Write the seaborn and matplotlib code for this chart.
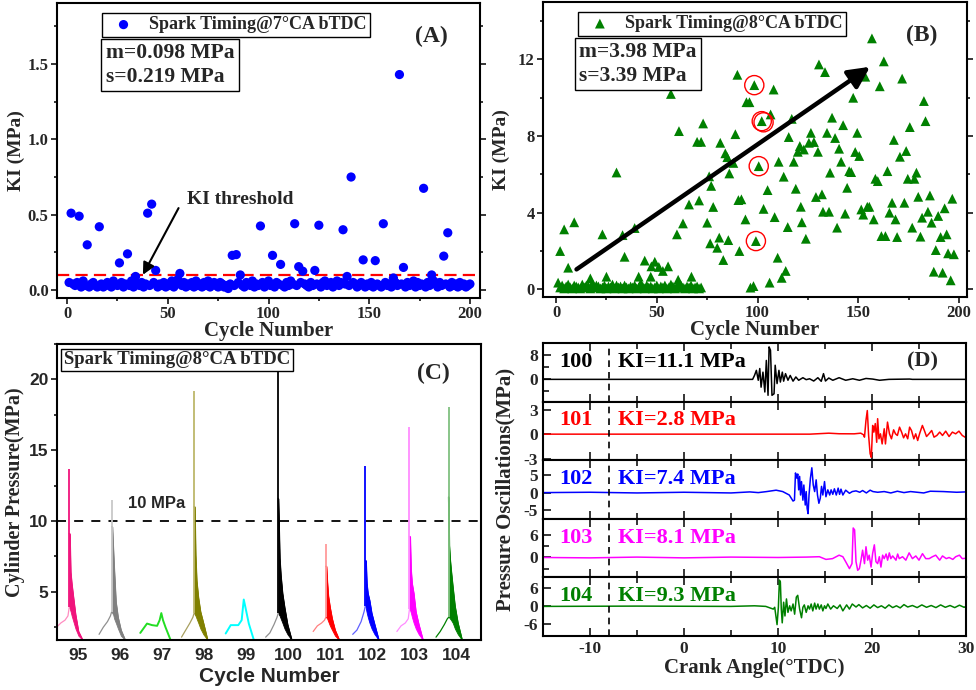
import matplotlib
matplotlib.use("Agg")
import matplotlib.pyplot as plt
from matplotlib.ticker import MultipleLocator, FixedLocator
import numpy as np
import pandas as pd
import seaborn as sns

sns.set_theme(style="ticks")
plt.rcParams["font.family"] = ["Liberation Serif", "DejaVu Sans"]
plt.rcParams["font.weight"] = "bold"
plt.rcParams["axes.labelweight"] = "bold"
plt.rcParams["axes.linewidth"] = 1.5
plt.rcParams["axes.edgecolor"] = "black"
plt.rcParams["axes.unicode_minus"] = False

SANS = ["Liberation Sans", "DejaVu Sans"]

# ---------------- (A) KI per cycle, spark timing 7 CA bTDC ----------------
KI_7CA = [
    0.05, 0.51, 0.04, 0.03, 0.05, 0.49, 0.02, 0.06, 0.03, 0.30,
    0.02, 0.04, 0.05, 0.03, 0.02, 0.42, 0.04, 0.02, 0.03, 0.05,
    0.03, 0.02, 0.06, 0.04, 0.03, 0.18, 0.05, 0.02, 0.04, 0.24,
    0.03, 0.06, 0.02, 0.09, 0.04, 0.03, 0.05, 0.02, 0.04, 0.51,
    0.03, 0.57, 0.05, 0.13, 0.02, 0.04, 0.03, 0.05, 0.02, 0.04,
    0.03, 0.06, 0.02, 0.04, 0.07, 0.11, 0.03, 0.05, 0.02, 0.04,
    0.03, 0.05, 0.02, 0.06, 0.03, 0.04, 0.02, 0.05, 0.03, 0.06,
    0.02, 0.04, 0.05, 0.03, 0.02, 0.05, 0.04, 0.02, 0.03, 0.01,
    0.04, 0.23, 0.03, 0.235, 0.05, 0.10, 0.03, 0.02, 0.05, 0.04,
    0.03, 0.06, 0.02, 0.04, 0.03, 0.425, 0.05, 0.02, 0.04, 0.06,
    0.03, 0.23, 0.02, 0.05, 0.04, 0.17, 0.03, 0.02, 0.05, 0.03,
    0.06, 0.04, 0.44, 0.03, 0.155, 0.05, 0.125, 0.04, 0.03, 0.02,
    0.05, 0.03, 0.13, 0.04, 0.43, 0.02, 0.05, 0.06, 0.03, 0.04,
    0.05, 0.02, 0.04, 0.06, 0.03, 0.05, 0.40, 0.04, 0.09, 0.03,
    0.75, 0.05, 0.04, 0.02, 0.03, 0.05, 0.20, 0.02, 0.04, 0.03,
    0.05, 0.02, 0.195, 0.04, 0.03, 0.02, 0.44, 0.05, 0.03, 0.04,
    0.02, 0.08, 0.05, 0.03, 1.43, 0.04, 0.15, 0.02, 0.05, 0.03,
    0.04, 0.06, 0.02, 0.05, 0.03, 0.04, 0.675, 0.02, 0.05, 0.03,
    0.10, 0.06, 0.04, 0.02, 0.05, 0.03, 0.225, 0.04, 0.38, 0.02,
    0.05, 0.03, 0.04, 0.02, 0.05, 0.03, 0.04, 0.02, 0.03, 0.04,
]
KI_THRESHOLD = 0.1

# ---------------- (B) KI per cycle, spark timing 8 CA bTDC ----------------
KI_8CA_LOW = [
    0.35, 0.10, 0.20, 0.05, 0.15, 0.25, 0.10, 0.05, 0.20, 0.15,
    0.10, 0.05, 0.25, 0.10, 0.20, 0.15, 0.05, 0.30, 0.10, 0.20,
    0.15, 0.05, 0.10, 0.20, 0.05, 0.15, 0.10, 0.25, 0.05, 0.20,
    0.10, 0.15, 0.05, 0.20, 0.10, 0.05, 0.15, 0.10, 0.20, 0.05,
    0.10, 0.30, 0.15, 0.05, 0.20, 0.10, 0.15, 0.05, 0.10, 0.20,
    0.05, 0.15, 0.10, 0.20, 0.05, 0.10, 0.25, 0.15, 0.05, 0.10,
    0.35, 0.20, 0.10, 0.05, 0.15, 0.10, 0.20, 0.05, 0.10, 0.15,
    0.05, 0.10,
]
KI_8CA_HIGH = [
    (2, 2.0), (4, 3.13), (6, 1.13), (9, 3.5), (17, 0.57), (23, 2.87), (25, 0.66),
    (30, 6.1), (33, 2.83), (34, 1.7), (39, 3.2), (41, 0.66), (44, 1.5), (47, 0.66),
    (47.3, 1.2), (49, 1.44), (51, 1.17), (53, 0.96), (55.6, 1.2), (57, 10.2),
    (60, 2.87), (60.6, 0.5), (61, 8.26), (63, 3.44), (66, 4.43), (67.2, 0.66),
    (70, 7.7), (71, 4.64), (72, 7.7), (73, 8.66), (75, 3.48), (76, 5.9), (77, 5.4),
    (76.5, 2.4), (78, 4.3), (80, 2.17), (81, 2.7), (81.5, 7.65), (83, 1.53),
    (84, 7.1), (85, 6.9), (85.5, 2.57), (86, 6.05), (88, 6.6), (89, 8.1),
    (90, 11.2), (90.5, 4.66), (91, 2.0), (92, 4.7), (94, 3.65), (94.5, 9.77),
    (96, 9.77), (96.5, 0.09), (98, 0.17), (98.4, 10.66), (99.2, 2.52),
    (100.6, 6.43), (102.1, 8.78), (103, 4.2), (105, 5.18), (106, 0.35),
    (106.5, 9.13), (108, 10.43), (108.5, 3.77), (110, 1.65), (110.5, 6.66),
    (112, 0.6), (113, 5.88), (114, 0.96), (115, 3.25), (115.5, 7.95), (117, 8.9),
    (118, 6.66), (119, 5.25), (120, 7.18), (121, 7.48), (121.5, 4.31), (122, 3.5),
    (123, 7.3), (124, 2.64), (125.5, 7.65), (126.5, 8.17), (128, 7.69), (129, 4.82),
    (130, 7.18), (130.5, 11.74), (132, 4.96), (132.5, 4.05), (133.5, 11.34),
    (134.5, 8.17), (135.5, 4.05), (136, 6.09), (137, 8.96), (138.5, 7.9),
    (139.5, 3.22), (140.5, 7.34), (141.5, 6.66), (142.5, 8.57), (143.5, 3.95),
    (144.5, 5.3), (145.5, 6.17), (146.5, 6.12), (147.5, 10.0), (148.5, 7.17),
    (149.5, 8.17), (150.5, 6.96), (151.5, 4.17), (152.5, 3.9), (153.5, 11.1),
    (154.5, 4.31), (155.5, 4.31), (156.8, 13.1), (157.7, 3.65), (158.5, 5.77),
    (159.7, 5.65), (160.7, 10.6), (161.5, 2.78), (162.7, 11.9), (163.5, 2.78),
    (164.5, 6.17), (165.5, 4.0), (166.8, 4.52), (167.7, 7.8), (168.5, 3.65),
    (169.3, 2.73), (170.7, 6.92), (171.8, 11.0), (172.9, 4.52), (173.8, 7.22),
    (174.6, 5.77), (175.6, 8.47), (176.8, 3.22), (177.9, 5.77), (178.9, 6.09),
    (179.8, 4.83), (180.9, 2.75), (181.7, 3.74), (182.6, 9.83), (183.4, 8.78),
    (184.6, 4.05), (185.6, 4.9), (186.4, 3.48), (187.5, 0.92), (188.5, 2.05),
    (189.7, 3.83), (190.9, 2.73), (191.9, 0.87), (192.9, 4.23), (193.9, 2.87),
    (194.6, 1.88), (195.9, 0.47), (196.7, 4.73), (197.5, 1.83),
]
CIRCLED = [(98.4, 10.66), (102.1, 8.78), (103.0, 8.72), (100.6, 6.43), (99.2, 2.52)]

# ---------------- (C) cylinder pressure, cycles 95-104 ----------------
CYCLE_LABELS = [95, 96, 97, 98, 99, 100, 101, 102, 103, 104]
KNOCK_SPIKE_AT = [94.79, 95.80, 97.76, 99.76, 100.89, 101.83, 102.88, 103.81]
KNOCK_PEAK = [13.7, 11.5, 19.2, 20.5, 8.4, 13.9, 16.65, 18.07]
COMP_DX = [-0.3, -0.2, -0.1, -0.03, 0.0]
COMP_P = [
    [2.5, 2.8, 3.0, 3.3, 3.9],
    [2.0, 2.5, 2.9, 3.3, 3.6],
    [1.8, 2.3, 2.8, 3.2, 3.5],
    [1.8, 2.1, 2.7, 3.2, 3.5],
    [2.2, 2.6, 2.8, 3.0, 3.2],
    [2.0, 2.3, 2.9, 3.6, 4.0],
    [2.2, 2.6, 2.8, 3.1, 3.8],
    [1.8, 2.2, 2.7, 3.1, 3.2],
]
DECAY_DX = [0.0, 0.015, 0.035, 0.06, 0.1, 0.15, 0.22, 0.32]
DECAY_HI = [
    [9.1, 9.1, 6.4, 5.6, 4.6, 3.4, 2.2, 1.6],
    [9.6, 9.6, 8.2, 6.6, 4.3, 3.2, 2.3, 1.6],
    [11.0, 11.0, 7.6, 5.8, 4.6, 3.6, 2.8, 1.6],
    [11.6, 10.0, 7.4, 6.2, 4.9, 3.9, 2.7, 1.6],
    [6.8, 6.8, 5.7, 4.7, 3.9, 3.1, 2.3, 1.6],
    [7.2, 7.2, 5.6, 4.9, 4.4, 3.5, 2.7, 1.6],
    [8.9, 8.9, 6.6, 5.6, 4.9, 3.6, 2.7, 1.6],
    [11.7, 8.3, 7.3, 6.5, 5.35, 4.0, 2.8, 1.6],
]
DECAY_LO = [
    [3.9, 3.8, 3.6, 3.3, 2.9, 2.4, 1.9, 1.6],
    [3.6, 3.5, 3.4, 3.1, 2.8, 2.4, 1.9, 1.6],
    [3.5, 3.4, 3.3, 3.1, 2.8, 2.4, 2.0, 1.6],
    [3.5, 3.4, 3.3, 3.1, 2.8, 2.4, 2.0, 1.6],
    [3.2, 3.2, 3.1, 2.9, 2.6, 2.3, 1.9, 1.6],
    [4.0, 3.8, 3.5, 3.2, 2.8, 2.4, 2.0, 1.6],
    [3.8, 3.7, 3.5, 3.2, 2.8, 2.4, 2.0, 1.6],
    [3.2, 3.2, 3.1, 3.0, 2.8, 2.4, 2.0, 1.6],
]
KNOCK_COLOR = ["#f0147c", "#808080", "#808000", "black", "red", "blue", "magenta", "green"]
SPIKE_COLOR = ["#f0147c", "#c8c8c8", "#bdb76b", "black", "#ff9a9a", "blue", "#ff8cff", "#80c080"]
COMP_COLOR = ["#ff8cc0", "#909090", "#a8a060", "#909090", "#ff8080", "#6060ff", "#ff8cff", "green"]
CYCLE97_X = [96.48, 96.64, 96.76, 96.88, 96.94, 96.98, 97.02, 97.08, 97.2]
CYCLE97_P = [2.1, 2.76, 2.65, 2.6, 3.0, 3.5, 3.0, 2.5, 1.6]
CYCLE99_X = [98.51, 98.63, 98.81, 98.89, 98.94, 98.98, 99.06, 99.18]
CYCLE99_P = [2.06, 2.65, 2.65, 3.0, 4.46, 3.9, 2.76, 1.6]
P_LINE = 10.0

# ---------------- (D) pressure oscillations ----------------
D_CYCLES = [100, 101, 102, 103, 104]
D_KI = [11.1, 2.8, 7.4, 8.1, 9.3]
D_COLORS = ["black", "red", "blue", "magenta", "green"]
OSC_100 = [(-15, 0), (7.3, 0), (7.5, 1.3), (7.7, 3.0), (7.9, -0.3), (8.06, 3.6), (8.2, -2.6),
           (8.4, 2.4), (8.6, -4.2), (8.76, 6.3), (8.94, -5.3), (9.05, 10.8), (9.2, 9.7),
           (9.36, -5.3), (9.58, -4.8), (9.7, 4.7), (9.9, -1.4), (10.1, 3.0), (10.25, -0.9),
           (10.46, 2.4), (10.6, -0.6), (10.8, 1.9), (11.06, -0.3), (11.3, 1.3), (11.6, -0.6),
           (11.9, 0.8), (12.2, -0.3), (12.65, 0.55), (13.0, -0.1), (13.36, 0.2), (13.8, -0.55),
           (14.24, 0.55), (14.6, -0.65), (14.84, 1.9), (15.05, -0.55), (15.4, 0.45),
           (15.83, -0.3), (16.5, 0.55), (17.2, -0.3), (17.95, 0.2), (18.66, -0.3),
           (19.36, 0.3), (20.07, 0.1), (20.8, -0.3), (21.8, 0.0), (24.0, 0.1), (24.3, 0.0),
           (30, 0)]
OSC_101 = [(-15, 0), (13.4, 0), (15.4, 0.12), (16.5, 0.05), (18.1, 0.04), (18.8, 0.12),
           (19.1, -0.08), (19.2, -0.37), (19.36, 1.7), (19.5, 2.9), (19.64, -0.16),
           (19.8, -2.4), (19.93, -2.85), (20.07, 1.07), (20.2, 0.25), (20.35, 1.3),
           (20.5, -1.0), (20.6, 1.9), (20.74, -0.57), (20.9, 0.04), (21.08, -1.2),
           (21.3, 0.66), (21.43, -1.2), (21.65, 1.48), (21.86, 0.04), (22.07, -0.57),
           (22.3, 0.53), (22.5, 0.04), (22.7, -0.16), (22.93, 0.86), (23.15, 0.25),
           (23.36, -0.45), (23.57, 0.04), (23.8, -0.57), (24.0, 0.86), (24.2, 0.45),
           (24.45, -0.58), (24.65, 0.04), (24.86, -0.78), (25.08, 0.12), (25.36, 1.07),
           (25.57, 0.45), (25.8, -0.29), (26.06, 0.04), (26.35, 0.45), (26.6, -0.37),
           (26.9, -0.16), (27.2, 0.25), (27.5, -0.16), (27.84, 0.37), (28.2, -0.29),
           (28.55, 0.25), (28.9, 0.04), (29.25, 0.37), (29.6, -0.16), (29.9, -0.37),
           (30, -0.3)]
OSC_102 = [(-15, 0), (-10, 0.1), (-5, -0.1), (0, 0.1), (5, -0.1), (7.0, 0.2), (7.9, 0.0),
           (8.8, 0.3), (9.8, 0.7), (10.5, 0.3), (11.2, -0.7), (11.6, -2.45), (11.75, -2.2),
           (11.86, 5.7), (12.0, 4.2), (12.1, 5.4), (12.2, 0.8), (12.3, 4.7), (12.4, -0.7),
           (12.5, 3.2), (12.65, -2.2), (12.75, 2.2), (12.9, -3.6), (13.0, 0.3), (13.1, -4.6),
           (13.2, -6.1), (13.3, -0.7), (13.45, 4.2), (13.6, 7.2), (13.75, 2.2), (13.9, 0.3),
           (14.06, 3.7), (14.2, -0.7), (14.35, -3.1), (14.5, -1.6), (14.63, 1.8),
           (14.77, -0.7), (14.95, 3.2), (15.1, -1.2), (15.3, 0.8), (15.5, -0.7), (15.65, 0.8),
           (15.83, -0.5), (16.0, 1.1), (16.2, -0.7), (16.4, 1.3), (16.55, -0.5), (16.7, 1.0),
           (16.9, -0.7), (17.2, 0.7), (17.6, -0.2), (17.9, 0.3), (18.3, 0.5), (18.7, 0.1),
           (19.0, 0.6), (19.4, -0.1), (19.8, 0.7), (20.1, 0.3), (20.6, 0.1), (21.3, 0.3),
           (22.0, -0.1), (22.7, 0.4), (23.4, 0.0), (24.1, 0.3), (25.5, -0.1), (26.2, 0.4),
           (27.6, 0.3), (29.0, 0.1), (30, 0.2)]
OSC_103 = [(-15, 0), (-10, -0.1), (-5, 0.1), (0, -0.1), (5, 0.1), (10, 0.0), (13, 0.1),
           (14.4, 0.2), (15.1, -0.5), (15.8, -0.3), (16.5, 0.6), (16.9, 0.2), (17.2, -1.1),
           (17.6, -2.9), (17.87, -1.6), (18.0, 7.7), (18.15, 7.2), (18.3, -1.1),
           (18.48, -3.35), (18.66, -2.9), (18.83, -0.7), (19.0, 1.9), (19.2, -1.6),
           (19.36, 2.8), (19.54, -0.7), (19.7, 0.6), (19.9, -2.5), (20.07, 1.1), (20.25, 3.3),
           (20.42, -1.1), (20.6, -1.6), (20.78, 0.2), (20.95, -2.5), (21.13, 0.6),
           (21.3, -0.3), (21.5, 0.9), (21.66, -0.7), (21.84, 1.2), (22.0, -0.3), (22.2, 0.4),
           (22.55, -0.7), (22.73, 0.9), (22.9, -0.3), (23.25, 0.2), (23.6, -0.7),
           (23.95, 1.2), (24.3, -0.3), (24.66, 0.4), (25.0, -0.7), (25.37, 1.0),
           (25.72, -0.3), (26.08, -0.3), (26.43, 0.2), (26.78, 0.6), (27.2, -0.7),
           (27.5, 0.4), (27.9, -0.3), (28.2, 0.0), (28.6, -0.5), (28.9, 0.2), (29.3, 0.6),
           (29.6, -0.3), (30, -0.2)]
OSC_104 = [(-15, 0), (-5, 0.1), (5, 0.0), (7.5, 0.2), (8.7, 0.0), (9.5, -0.9), (9.65, -0.3),
           (9.75, -2.6), (9.9, -6.1), (10.04, -0.3), (10.15, 8.8), (10.25, 8.2),
           (10.35, -0.9), (10.45, -5.5), (10.6, 1.4), (10.74, -3.2), (10.9, 2.5),
           (11.06, -2.0), (11.24, 0.2), (11.4, -1.5), (11.6, 0.8), (11.77, -2.6),
           (11.95, 3.1), (12.1, 3.7), (12.3, -0.9), (12.5, -3.8), (12.65, -0.3), (12.8, 0.5),
           (13.0, -2.0), (13.2, 0.2), (13.35, -0.9), (13.53, 0.8), (13.7, -1.5), (13.9, 1.1),
           (14.05, -0.9), (14.24, 0.8), (14.4, -0.9), (14.6, 0.5), (14.77, -1.5),
           (14.95, 0.2), (15.1, -0.7), (15.3, 0.8), (15.6, -0.9), (15.9, 0.2), (16.3, -0.7),
           (16.6, 0.5), (16.9, -1.5), (17.3, 0.5), (17.6, -0.9), (17.9, 0.8), (18.3, -0.2),
           (18.6, 0.6), (19.0, -0.5), (19.4, 0.3), (19.8, -0.6), (20.2, 0.5), (20.6, -0.4),
           (21.0, 0.2), (21.4, -0.6), (21.8, 0.5), (22.2, -0.4), (22.6, 0.2), (23.0, -0.5),
           (23.4, 0.6), (23.8, -0.2), (24.3, 0.3), (24.8, -0.4), (25.3, 0.5), (25.8, -0.3),
           (26.3, 0.3), (26.8, -0.4), (27.3, 0.5), (27.8, -0.3), (28.3, 0.3), (28.8, -0.4),
           (29.3, 0.4), (29.8, -0.3), (30, 0.0)]
D_TRACES = [OSC_100, OSC_101, OSC_102, OSC_103, OSC_104]
D_YLIM = [(-7.4, 12.1), (-3.2, 4.0), (-7.6, 9.4), (-5.2, 10.1), (-9.9, 9.7)]
D_MAJOR = [[0, 8], [-3, 0, 3], [-5, 0, 5], [0, 6], [-6, 0, 6]]
D_MINOR = [[-4, 4], [], [], [-3, 3], []]
SPARK_ANGLE = -8

W, H = 976, 690


def frac(left, top, right, bottom):
    return [left / W, 1 - bottom / H, (right - left) / W, (bottom - top) / H]


def style_box(ax):
    for s in ax.spines.values():
        s.set_visible(True)
        s.set_linewidth(1.5)
        s.set_color("black")


fig = plt.figure(figsize=(9.76, 6.9), dpi=100)

# ---------------- panel A ----------------
axA = fig.add_axes(frac(57, 3, 480, 298))
dfa = pd.DataFrame({"cycle": np.arange(1, len(KI_7CA) + 1), "ki": KI_7CA})
sns.scatterplot(data=dfa, x="cycle", y="ki", ax=axA, color="#0000ff", s=44,
                edgecolor="none", label="Spark Timing@7°CA bTDC", zorder=3)
axA.axhline(KI_THRESHOLD, color="red", ls=(0, (5.5, 2.8)), lw=1.6, zorder=2)
axA.set_xlim(-5, 205)
axA.set_ylim(-0.053, 1.905)
axA.xaxis.set_major_locator(MultipleLocator(50))
axA.xaxis.set_minor_locator(MultipleLocator(25))
axA.yaxis.set_major_locator(MultipleLocator(0.5))
axA.yaxis.set_minor_locator(MultipleLocator(0.25))
axA.set_xlabel("Cycle Number", fontsize=15, labelpad=-1)
axA.set_ylabel("KI (MPa)", fontsize=14, labelpad=2)
axA.text(59.5, 0.6, "KI threshold", fontsize=14, ha="left", va="center")
axA.annotate("", xy=(37, 0.085), xytext=(56, 0.56),
             arrowprops=dict(arrowstyle="-|>", color="black", lw=1.5, mutation_scale=18))
axA.text(0.115, 0.79, "m=0.098 MPa\ns=0.219 MPa", transform=axA.transAxes, fontsize=15.5,
         ha="left", va="center", linespacing=1.25,
         bbox=dict(boxstyle="square,pad=0.2", fc="white", ec="black", lw=1.0))
axA.text(0.924, 0.885, "(A)", transform=axA.transAxes, fontsize=17, ha="right", va="center")
legA = axA.legend(loc="upper left", bbox_to_anchor=(0.106, 0.967), frameon=True, fancybox=False,
                  edgecolor="black", fontsize=13, borderaxespad=0, handletextpad=0.4,
                  borderpad=0.2, framealpha=1)
legA.get_frame().set_linewidth(1.0)

# ---------------- panel B ----------------
axB = fig.add_axes(frac(543, 2, 967, 297))
low_df = pd.DataFrame({"cycle": np.arange(1, len(KI_8CA_LOW) + 1), "ki": KI_8CA_LOW})
high_df = pd.DataFrame(KI_8CA_HIGH, columns=["cycle", "ki"])
dfb = pd.concat([low_df, high_df], ignore_index=True)
sns.scatterplot(data=dfb, x="cycle", y="ki", ax=axB, color="green", marker="^", s=50,
                edgecolor="none", label="Spark Timing@8°CA bTDC", zorder=3)
circ = pd.DataFrame(CIRCLED, columns=["cycle", "ki"])
axB.scatter(circ["cycle"], circ["ki"], s=190, facecolors="none", edgecolors="red", lw=1.0, zorder=4)
axB.annotate("", xy=(157, 11.7), xytext=(9, 0.96),
             arrowprops=dict(arrowstyle="-|>", color="black", lw=3.2, mutation_scale=32))
axB.set_xlim(-6.5, 204)
axB.set_ylim(-0.4, 15.0)
axB.xaxis.set_major_locator(MultipleLocator(50))
axB.xaxis.set_minor_locator(MultipleLocator(25))
axB.yaxis.set_major_locator(MultipleLocator(4))
axB.yaxis.set_minor_locator(MultipleLocator(2))
axB.set_xlabel("Cycle Number", fontsize=15, labelpad=-1)
axB.set_ylabel("KI (MPa)", fontsize=14, labelpad=6)
axB.text(0.085, 0.79, "m=3.98 MPa\ns=3.39 MPa", transform=axB.transAxes, fontsize=15.5,
         ha="left", va="center", linespacing=1.25,
         bbox=dict(boxstyle="square,pad=0.2", fc="white", ec="black", lw=1.0))
axB.text(0.929, 0.885, "(B)", transform=axB.transAxes, fontsize=17, ha="right", va="center")
legB = axB.legend(loc="upper left", bbox_to_anchor=(0.083, 0.967), frameon=True, fancybox=False,
                  edgecolor="black", fontsize=13, borderaxespad=0, handletextpad=0.4,
                  borderpad=0.2, framealpha=1)
legB.get_frame().set_linewidth(1.0)

for ax in (axA, axB):
    ax.tick_params(which="both", direction="out", width=1.3, labelsize=12, right=True,
                   labelright=False, top=False, pad=2)
    ax.tick_params(which="major", length=4)
    ax.tick_params(which="minor", length=2.5)

# ---------------- panel C ----------------
axC = fig.add_axes(frac(57, 344, 481, 640))
for i, spike in enumerate(KNOCK_SPIKE_AT):
    comp = pd.DataFrame({"x": [spike + d for d in COMP_DX], "p": COMP_P[i]})
    sns.lineplot(data=comp, x="x", y="p", ax=axC, color=COMP_COLOR[i], lw=0.9,
                 estimator=None, sort=False)
    xs = [spike + d for d in DECAY_DX]
    axC.fill_between(xs, DECAY_LO[i], DECAY_HI[i], color=KNOCK_COLOR[i], lw=0.6)
    dec = pd.DataFrame({"x": xs, "p": DECAY_HI[i]})
    sns.lineplot(data=dec, x="x", y="p", ax=axC, color=KNOCK_COLOR[i], lw=1.0,
                 estimator=None, sort=False)
    axC.vlines(spike, COMP_P[i][-1], KNOCK_PEAK[i], color=SPIKE_COLOR[i], lw=1.3)
sns.lineplot(x=CYCLE97_X, y=CYCLE97_P, ax=axC, color="#22dd22", lw=1.4, estimator=None, sort=False)
sns.lineplot(x=CYCLE99_X, y=CYCLE99_P, ax=axC, color="cyan", lw=1.4, estimator=None, sort=False)
axC.axhline(P_LINE, color="black", ls=(0, (5, 4.5)), lw=1.3, zorder=1)
axC.text(96.19, 11.25, "10 MPa", fontsize=12, family=SANS, ha="left", va="center")
axC.set_xlim(94.5, 104.58)
axC.set_ylim(1.6, 22.5)
axC.xaxis.set_major_locator(FixedLocator(CYCLE_LABELS))
axC.set_xticklabels([str(c) for c in CYCLE_LABELS], family=SANS, fontsize=12.5)
axC.yaxis.set_major_locator(MultipleLocator(5))
axC.yaxis.set_minor_locator(MultipleLocator(2.5))
for lab in axC.get_yticklabels():
    lab.set_family(SANS)
axC.tick_params(axis="x", length=0, pad=6)
axC.tick_params(axis="y", which="both", direction="out", width=1.3, labelsize=12.5, pad=2)
axC.tick_params(axis="y", which="major", length=4)
axC.tick_params(axis="y", which="minor", length=2.5)
axC.set_xlabel("Cycle Number", fontsize=15, family=SANS, labelpad=3)
axC.set_ylabel("Cylinder Pressure(MPa)", fontsize=14.5, labelpad=3)
axC.text(0.017, 0.946, "Spark Timing@8°CA bTDC", transform=axC.transAxes, fontsize=13.5,
         ha="left", va="center", zorder=6,
         bbox=dict(boxstyle="square,pad=0.15", fc="white", ec="black", lw=1.0))
axC.text(0.927, 0.902, "(C)", transform=axC.transAxes, fontsize=17, ha="right", va="center")

# ---------------- panel D ----------------
top, bottom = 343, 636
row_h = (bottom - top) / len(D_CYCLES)
d_axes = []
for i, cyc in enumerate(D_CYCLES):
    ax = fig.add_axes(frac(543, top + i * row_h, 966, top + (i + 1) * row_h))
    trace = pd.DataFrame(D_TRACES[i], columns=["angle", "osc"])
    sns.lineplot(data=trace, x="angle", y="osc", ax=ax, color=D_COLORS[i], lw=1.1,
                 estimator=None, sort=False)
    ax.axvline(SPARK_ANGLE, color="black", ls=(0, (4, 3)), lw=1.2)
    ax.set_xlim(-15, 30)
    ax.set_ylim(*D_YLIM[i])
    ax.yaxis.set_major_locator(FixedLocator(D_MAJOR[i]))
    ax.yaxis.set_minor_locator(FixedLocator(D_MINOR[i]))
    ax.xaxis.set_major_locator(MultipleLocator(10))
    ax.xaxis.set_minor_locator(MultipleLocator(5))
    ax.tick_params(which="both", direction="in", width=1.3, labelsize=12.5, top=True,
                   right=False, labelbottom=(i == len(D_CYCLES) - 1))
    ax.tick_params(which="major", length=6)
    ax.tick_params(which="minor", length=4)
    ax.set_xlabel("")
    ax.set_ylabel("")
    ax.text(-13.3, 0.68, str(cyc), transform=ax.get_xaxis_transform(), fontsize=16,
            color=D_COLORS[i], ha="left", va="center")
    ax.text(-7.0, 0.68, f"KI={D_KI[i]} MPa", transform=ax.get_xaxis_transform(), fontsize=16,
            color=D_COLORS[i], ha="left", va="center")
    d_axes.append(ax)
d_axes[0].text(0.934, 0.68, "(D)", transform=d_axes[0].transAxes, fontsize=16,
               ha="right", va="center")
d_axes[-1].set_xlabel("Crank Angle(°TDC)", fontsize=15, labelpad=1)
fig.text(505 / W, 1 - 489.5 / H, "Pressure Oscillations(MPa)", rotation=90, fontsize=15,
         fontweight="bold", ha="center", va="center")

for ax in [axA, axB, axC] + d_axes:
    style_box(ax)

fig.savefig("out.png", dpi=100)
